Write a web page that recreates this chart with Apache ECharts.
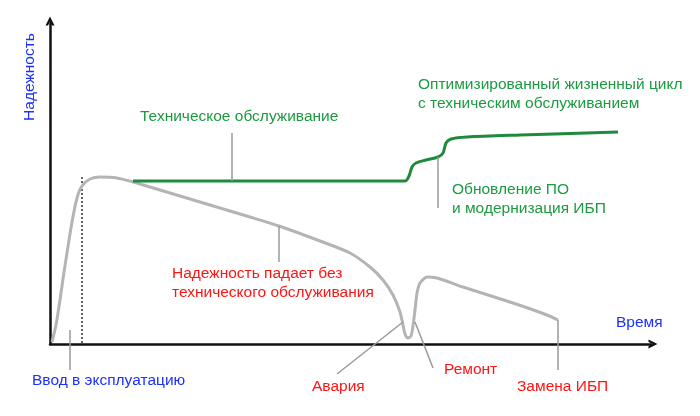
<!DOCTYPE html>
<html style="height: 100%">
<head>
    <meta charset="utf-8" />
    <title>Надежность ИБП</title>
    <script src="https://cdn.jsdelivr.net/npm/echarts@6/dist/echarts.min.js"></script>
</head>
<body style="height: 100%; margin: 0; overflow: hidden; background: #fff">
    <div id="container" style="width: 700px; height: 416px"></div>
    <script>
        // время / надежность, условные единицы
        var noMaintenance = [
            [2, 2], [6, 19], [10, 44], [14, 72], [17, 91], [22, 122], [27, 146], [32, 158],
            [40, 165], [50, 167], [67, 166], [83, 162], [100, 157], [150, 142], [200, 127],
            [229, 118], [270, 103], [300, 91], [320, 77], [333, 64], [343, 49], [350, 32],
            [353, 19], [355, 10], [358, 6], [361, 8], [363, 18], [365, 34], [367, 51],
            [370, 61], [377, 67], [387, 66], [413, 57], [463, 41], [497, 29], [508, 24]
        ];
        var withMaintenance = [
            [83, 163], [355, 163], [359, 168], [362, 177], [366, 181], [376, 184], [388, 187],
            [393, 191], [396, 201], [401, 205], [417, 207], [470, 209], [568, 212]
        ];
        var commissioning = [[32, 167], [32, 1]];
        // выноски к подписям
        var leaderService = [[182, 211], [182, 163]];
        var leaderDecline = [[229, 118], [229, 82]];
        var leaderUpgrade = [[388, 187], [388, 136]];
        var leaderFailure = [[353, 22], [287, -30]];
        var leaderRepair = [[365, 22], [383, -24]];
        var leaderReplace = [[508, 24], [508, -26]];
        var leaderStart = [[20, 14], [20, -26]];

        var green = "#1b9a40", red = "#ff1414", blue = "#1a30ff";
        var font = '15.5px "Liberation Sans", Arial, sans-serif';
        // открытая стрелка на концах осей
        var chevron = "path://M0,10 L5,0 L10,10 L7.2,10 L5,5.6 L2.8,10 Z";

        var dom = document.getElementById("container");
        var myChart = echarts.init(dom, null, { renderer: "canvas" });

        let leader = (data) => ({
            type: "line",
            data: data,
            symbol: "none",
            clip: false,
            silent: true,
            lineStyle: { color: "#9a9a9a", width: 1.5 },
        });
        let label = (text, x, y, color, rot) => ({
            type: "text",
            x: x,
            y: y,
            rotation: rot || 0,
            style: {
                text: text,
                fill: color,
                font: font,
                textAlign: rot ? "center" : "left",
                textVerticalAlign: "middle",
                lineHeight: 19,
            },
        });
        let axis = (max) => ({
            type: "value",
            min: 0,
            max: max,
            axisLine: {
                show: true,
                lineStyle: { color: "#111", width: 2.5 },
                symbol: ["none", chevron],
                symbolSize: [13, 9],
                symbolOffset: [0, 2],
            },
            axisTick: { show: false },
            axisLabel: { show: false },
            splitLine: { show: false },
        });

        var option = {
            animation: false,
            grid: { left: 50, right: 49, top: 23, bottom: 72 },
            xAxis: axis(601),
            yAxis: axis(321),
            series: [
                {
                    type: "line",
                    data: commissioning,
                    symbol: "none",
                    lineStyle: { color: "#333", width: 1.5, type: [2, 2] },
                },
                {
                    type: "line",
                    data: noMaintenance,
                    symbol: "none",
                    smooth: 0.25,
                    lineStyle: { color: "#b4b4b4", width: 3 },
                },
                {
                    type: "line",
                    data: withMaintenance,
                    symbol: "none",
                    smooth: 0.3,
                    lineStyle: { color: "#1e8a3c", width: 3 },
                },
                leader(leaderService),
                leader(leaderDecline),
                leader(leaderUpgrade),
                leader(leaderFailure),
                leader(leaderRepair),
                leader(leaderReplace),
                leader(leaderStart),
            ],
            graphic: [
                label("Надежность", 30, 77, blue, Math.PI / 2),
                label("Время", 616, 323, blue),
                label("Техническое обслуживание", 140, 117, green),
                label("Оптимизированный жизненный цикл\nс техническим обслуживанием", 418, 94, green),
                label("Обновление ПО\nи модернизация ИБП", 452, 199, green),
                label("Надежность падает без\nтехнического обслуживания", 172, 283, red),
                label("Ввод в эксплуатацию", 32, 381, blue),
                label("Авария", 312, 387, red),
                label("Ремонт", 444, 370, red),
                label("Замена ИБП", 517, 387, red),
            ],
        };
        myChart.setOption(option);
        window.addEventListener("resize", myChart.resize);
    </script>
</body>
</html>
